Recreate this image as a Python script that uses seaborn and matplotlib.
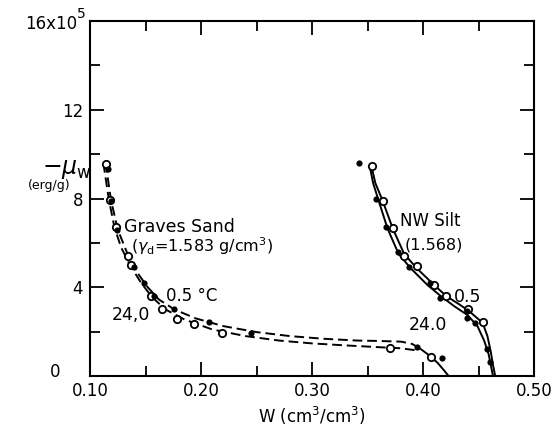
import numpy as np
import pandas as pd
import matplotlib
matplotlib.use("Agg")
import matplotlib.pyplot as plt
import seaborn as sns

# ---------------- data (y in 10^5 erg/g) ----------------
# Graves Sand, 0.5 C (filled dots)
gs_cold_w = [0.116, 0.119, 0.124, 0.140, 0.149, 0.158, 0.176, 0.207, 0.245, 0.395, 0.417]
gs_cold_mu = [9.35, 7.9, 6.6, 4.9, 4.2, 3.6, 3.0, 2.45, 1.95, 1.3, 0.8]
# Graves Sand, 24.0 C (open circles)
gs_warm_w = [0.1145, 0.118, 0.123, 0.134, 0.137, 0.155, 0.165, 0.178, 0.194, 0.219, 0.370, 0.407]
gs_warm_mu = [9.55, 7.95, 6.7, 5.4, 5.0, 3.6, 3.0, 2.55, 2.35, 1.95, 1.27, 0.86]
# Graves Sand drawn curves (dashed part)
gs_cold_line_w = [0.114, 0.119, 0.125, 0.133, 0.142, 0.152, 0.162, 0.176, 0.195, 0.22, 0.25, 0.28, 0.31, 0.34, 0.36, 0.38, 0.39]
gs_cold_line_mu = [9.6, 7.9, 6.6, 5.6, 4.7, 4.0, 3.45, 3.0, 2.6, 2.25, 1.98, 1.8, 1.68, 1.6, 1.58, 1.55, 1.45]
gs_warm_line_w = [0.112, 0.117, 0.122, 0.128, 0.136, 0.146, 0.156, 0.168, 0.185, 0.21, 0.24, 0.27, 0.30, 0.33, 0.36, 0.38, 0.395]
gs_warm_line_mu = [9.6, 7.95, 6.7, 5.8, 5.0, 4.2, 3.55, 3.0, 2.55, 2.1, 1.8, 1.6, 1.47, 1.38, 1.3, 1.25, 1.15]
# Graves Sand drawn curve (solid tail)
gs_tail_w = [0.39, 0.397, 0.405, 0.413, 0.419, 0.423]
gs_tail_mu = [1.45, 1.25, 0.95, 0.6, 0.25, 0.0]

# NW Silt, filled dots
nw_cold_w = [0.342, 0.358, 0.367, 0.377, 0.387, 0.406, 0.4155, 0.440, 0.440, 0.447, 0.4573, 0.460]
nw_cold_mu = [9.6, 7.96, 6.7, 5.6, 4.9, 4.2, 3.5, 2.95, 2.6, 2.4, 1.2, 0.63]
# NW Silt, open circles
nw_warm_w = [0.3536, 0.3636, 0.3727, 0.383, 0.3945, 0.410, 0.421, 0.4409, 0.4536]
nw_warm_mu = [9.45, 7.9, 6.65, 5.43, 4.98, 4.1, 3.6, 3.0, 2.45]
# NW Silt drawn curves (solid)
nw_line_a_w = [0.3536, 0.357, 0.3636, 0.3727, 0.383, 0.3945, 0.410, 0.421, 0.432, 0.4409, 0.4536, 0.458, 0.461, 0.463, 0.465]
nw_line_a_mu = [9.45, 8.7, 7.9, 6.65, 5.5, 4.85, 4.1, 3.6, 3.25, 2.95, 2.4, 1.8, 1.1, 0.5, 0.0]
nw_line_b_w = [0.352, 0.355, 0.360, 0.368, 0.378, 0.389, 0.404, 0.416, 0.428, 0.440, 0.449, 0.455, 0.459, 0.461, 0.463]
nw_line_b_mu = [9.45, 8.7, 7.9, 6.65, 5.5, 4.85, 4.1, 3.6, 3.15, 2.75, 2.25, 1.6, 1.0, 0.5, 0.0]

x_major = [0.10, 0.20, 0.30, 0.40, 0.50]
x_major_labels = ["0.10", "0.20", "0.30", "0.40", "0.50"]
x_minor = [0.15, 0.25, 0.35, 0.45]
y_major = [0, 4, 8, 12, 16]
y_major_labels = ["", "4", "8", "12", ""]
y_minor = [2, 6, 10, 14]

# ---------------- plot ----------------
sns.set_style("ticks")
plt.rcParams["font.family"] = ["DejaVu Sans"]
plt.rcParams["text.color"] = "black"
plt.rcParams["axes.labelcolor"] = "black"

fig = plt.figure(figsize=(5.54, 4.29), dpi=100)
ax = fig.add_axes([0.1625, 0.1235, 0.8015, 0.8275])

k = "black"
dash = (5, 2.5)

def line(xs, ys, dashes=None):
    df = pd.DataFrame({"w": xs, "mu": ys})
    sns.lineplot(data=df, x="w", y="mu", ax=ax, sort=False, color=k, lw=1.4,
                 estimator=None)
    ln = ax.get_lines()[-1]
    if dashes is not None:
        ln.set_dashes(dashes)

line(gs_cold_line_w, gs_cold_line_mu, dashes=dash)
line(gs_warm_line_w, gs_warm_line_mu, dashes=dash)
line(gs_tail_w, gs_tail_mu)
line(nw_line_a_w, nw_line_a_mu)
line(nw_line_b_w, nw_line_b_mu)

sns.scatterplot(x=gs_warm_w + nw_warm_w, y=gs_warm_mu + nw_warm_mu, ax=ax, marker="o",
                s=28, facecolor="white", edgecolor=k, linewidth=1.3, zorder=5)
sns.scatterplot(x=gs_cold_w + nw_cold_w, y=gs_cold_mu + nw_cold_mu, ax=ax, marker="o",
                s=20, color=k, edgecolor=k, linewidth=0, zorder=6)

ax.set_xlim(0.10, 0.50)
ax.set_ylim(0, 16)
ax.set_xticks(x_major)
ax.set_xticklabels(x_major_labels)
ax.set_xticks(x_minor, minor=True)
ax.set_yticks(y_major)
ax.set_yticklabels(y_major_labels)
ax.set_yticks(y_minor, minor=True)
ax.tick_params(which="both", direction="in", top=True, right=True, width=1.3, colors=k,
               labelsize=12)
ax.tick_params(which="major", length=10, pad=5)
ax.tick_params(which="minor", length=7)
ax.tick_params(axis="x", which="major", pad=4)
for s in ax.spines.values():
    s.set_linewidth(1.5)
    s.set_color(k)
ax.set_xlabel("W (cm$^3$/cm$^3$)", fontsize=12, labelpad=4, color=k)
ax.set_ylabel("")

# y-axis labels
fig.text(0.09, 0.133, "0", fontsize=12, ha="left", va="center", color=k)
fig.text(0.045, 0.945, "16x10", fontsize=12, ha="left", va="center", color=k)
fig.text(0.138, 0.968, "5", fontsize=10, ha="left", va="center", color=k)
fig.text(0.075, 0.607, r"$-\mu_{\mathregular{w}}$", fontsize=17, ha="left", va="center", color=k)
fig.text(0.05, 0.567, "(erg/g)", fontsize=9, ha="left", va="center", color=k)

# annotations
ax.text(0.131, 6.7, "Graves Sand", fontsize=12.5, ha="left", va="center", color=k)
ax.text(0.137, 5.85, r"($\gamma_{\mathregular{d}}$=1.583 g/cm$^3$)", fontsize=11.5, ha="left", va="center", color=k)
ax.text(0.168, 3.6, "0.5 °C", fontsize=12, ha="left", va="center", color=k)
ax.text(0.120, 2.75, "24,0", fontsize=12.5, ha="left", va="center", color=k)
ax.text(0.379, 7.0, "NW Silt", fontsize=12, ha="left", va="center", color=k)
ax.text(0.383, 5.9, "(1.568)", fontsize=11.5, ha="left", va="center", color=k)
ax.text(0.428, 3.55, "0.5", fontsize=12.5, ha="left", va="center", color=k)
ax.text(0.387, 2.3, "24.0", fontsize=12.5, ha="left", va="center", color=k)

fig.savefig("out.png", dpi=100)
